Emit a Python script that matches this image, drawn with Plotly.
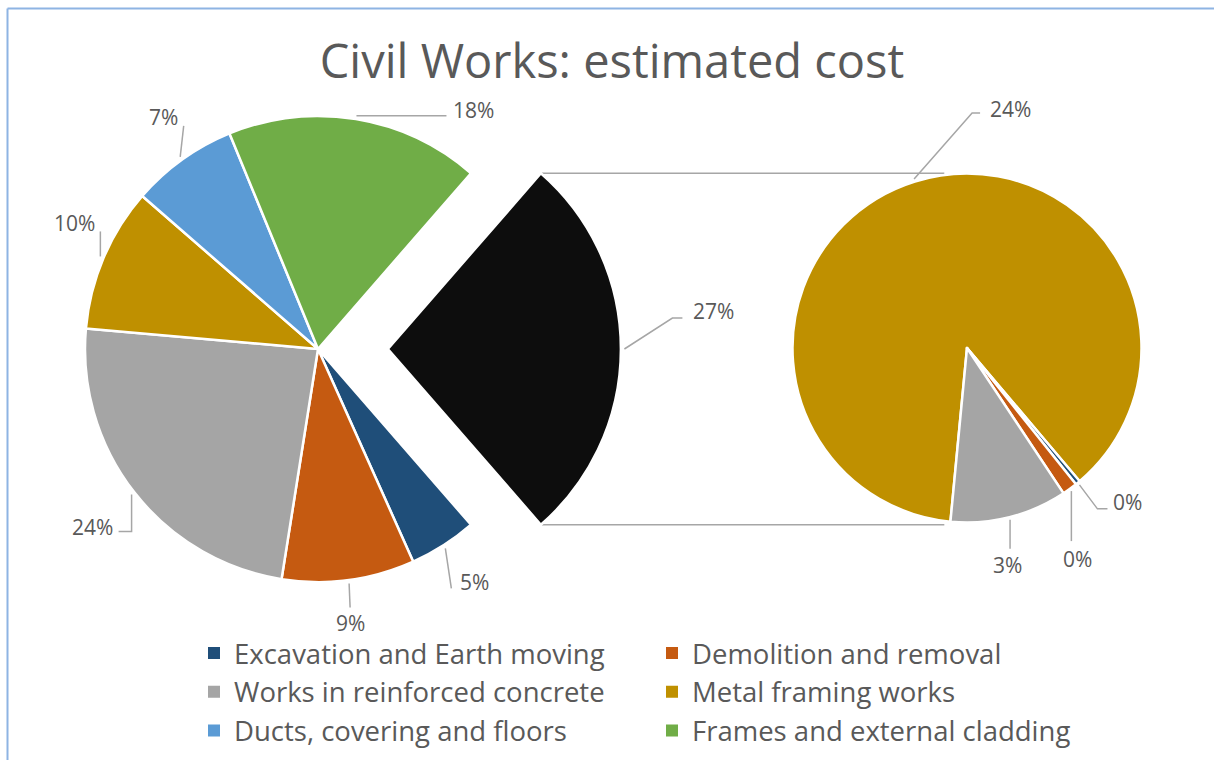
import math
import plotly.graph_objects as go

# ---- data: shares of the total estimated cost (%) ----
categories = [
    "Excavation and Earth moving",
    "Demolition and removal",
    "Works in reinforced concrete",
    "Metal framing works",
    "Ducts, covering and floors",
    "Frames and external cladding",
]
main_values = [4.7, 9.2, 23.9, 10.0, 7.4, 17.6]

# breakdown of the "Other" slice, drawn as the secondary pie
detail_labels = [
    "Metal framing works",
    "Excavation and Earth moving",
    "Demolition and removal",
    "Works in reinforced concrete",
]
detail_values = [23.75, 0.12, 0.38, 2.95]

other_label = "Other"
other_value = sum(detail_values)

palette = {
    "Excavation and Earth moving": "#1F4E79",
    "Demolition and removal": "#C55A11",
    "Works in reinforced concrete": "#A5A5A5",
    "Metal framing works": "#BF9000",
    "Ducts, covering and floors": "#5B9BD5",
    "Frames and external cladding": "#70AD47",
    "Other": "#0D0D0D",
}

# ---- page geometry (pixels) ----
W, H = 1214, 760
C1, R1, PULL = (318.0, 349.0), 233.0, 0.30      # main pie
C2, R2 = (967.0, 348.0), 174.5                   # secondary pie
TEXT_COLOR = "#595959"
LINE_COLOR = "#A6A6A6"
FONT = "'Open Sans', Lato, sans-serif"


def domain(center, half):
    cx, cy = center
    return dict(x=[(cx - half) / W, (cx + half) / W],
                y=[1 - (cy + half) / H, 1 - (cy - half) / H])


def mid_angles(values, rotation):
    total = sum(values)
    out, acc = [], 0.0
    for v in values:
        out.append(rotation + 360.0 * (acc + v / 2.0) / total)
        acc += v
    return out


def polar(center, r, ang):
    a = math.radians(ang)
    return center[0] + r * math.sin(a), center[1] - r * math.cos(a)


main_labels = categories + [other_label]
main_all = main_values + [other_value]
grand_total = sum(main_all)
# the exploded slice is centred on 3 o'clock
rot1 = 90.0 + 180.0 * other_value / grand_total
rot2 = 185.45
pulls = [0.0] * len(categories) + [PULL]

fig = go.Figure()

fig.add_trace(go.Pie(
    labels=main_labels, values=main_all,
    marker=dict(colors=[palette[l] for l in main_labels],
                line=dict(color="white", width=2.5)),
    sort=False, direction="clockwise", rotation=rot1, pull=pulls,
    textinfo="none", hoverinfo="label+percent", showlegend=False,
    domain=domain(C1, R1 * (1 + PULL)),
))

fig.add_trace(go.Pie(
    labels=detail_labels, values=detail_values,
    marker=dict(colors=[palette[l] for l in detail_labels],
                line=dict(color="white", width=2.5)),
    sort=False, direction="clockwise", rotation=rot2,
    textinfo="none", hoverinfo="label+value", showlegend=False,
    domain=domain(C2, R2),
))

# ---- connector lines between the exploded slice and the secondary pie ----
a_start = rot1 - 360.0 * other_value / grand_total + 360.0
pulled_c = polar(C1, R1 * PULL, 90.0)
top_corner = polar(pulled_c, R1, a_start)
bot_corner = polar(pulled_c, R1, 180.0 - a_start)
end_x = C2[0] - 0.13 * R2
cx_lines, cy_lines = [], []
for corner in (top_corner, bot_corner):
    cx_lines += [corner[0] + 1, end_x, None]
    cy_lines += [corner[1], corner[1], None]

# ---- data labels with leader lines ----
# (lead dx, lead dy, horizontal stub, text side, text dx, text dy)
main_label_style = [
    (6, 40, 0, "r", 7, -6),
    (1, 24, 0, "b", 0, 0),
    (0, 37, -13, "l", -4, -5),
    (0, -25, 0, "l", -3, -8),
    (3.5, -31, 0, "l", -4, -9),
    (90, 0, 0, "r", 5, -6),
    (48, -31, 10, "r", 9, -7),
]
detail_label_style = [
    (58, -66, 8, "r", 8, -4),
    (18, 24, 10, "r", 4, -7),
    (0, 50, 0, "b", 6, 2),
    (0, 29, 0, "b", -3, 0),
]

annotations = []
lx, ly = [], []


def add_labels(values, rotation, center, radius, styles, pull_flags):
    mids = mid_angles(values, rotation)
    for v, ang, st, pf in zip(values, mids, styles, pull_flags):
        c = polar(center, radius * pf, ang) if pf else center
        sx, sy = polar(c, radius * 1.015, ang)
        ex, ey = sx + st[0], sy + st[1]
        fx, fy = ex + st[2], ey
        lx.extend([sx, ex, fx, None])
        ly.extend([sy, ey, fy, None])
        side = st[3]
        xanchor = {"r": "left", "l": "right", "b": "center"}[side]
        yanchor = "top" if side == "b" else "middle"
        annotations.append(dict(
            x=fx + st[4], y=fy + st[5], xref="x", yref="y",
            text=f"{round(100 * v / grand_total)}%", showarrow=False,
            xanchor=xanchor, yanchor=yanchor,
            font=dict(family=FONT, size=21, color=TEXT_COLOR),
        ))


add_labels(main_all, rot1, C1, R1, main_label_style, [0] * len(categories) + [PULL])
add_labels(detail_values, rot2, C2, R2, detail_label_style, [0] * len(detail_values))

fig.add_trace(go.Scatter(x=cx_lines + lx, y=cy_lines + ly, mode="lines",
                         line=dict(color=LINE_COLOR, width=1.5),
                         hoverinfo="skip", showlegend=False))

# ---- legend entries ----
for name in categories:
    fig.add_trace(go.Scatter(x=[None], y=[None], mode="markers", name=name,
                             marker=dict(symbol="square", size=12, color=palette[name])))

fig.update_layout(
    width=W, height=H,
    margin=dict(l=0, r=0, t=0, b=0),
    paper_bgcolor="white", plot_bgcolor="rgba(0,0,0,0)",
    xaxis=dict(range=[0, W], visible=False, fixedrange=True, domain=[0, 1]),
    yaxis=dict(range=[H, 0], visible=False, fixedrange=True, domain=[0, 1]),
    title=dict(text="Civil Works: estimated cost", x=612 / W, xanchor="center",
               y=1 - 62 / H, yanchor="middle", xref="container", yref="container",
               font=dict(family=FONT, size=47, color=TEXT_COLOR)),
    legend=dict(orientation="h", x=194 / W, xanchor="left", y=1 - 628.6 / H, yanchor="top",
                entrywidth=413, entrywidthmode="pixels",
                font=dict(family=FONT, size=27.5, color=TEXT_COLOR),
                bgcolor="rgba(0,0,0,0)", traceorder="normal"),
    annotations=annotations,
    shapes=[
        dict(type="line", xref="paper", yref="paper", x0=7.5 / W, x1=1.02,
             y0=1 - 8.5 / H, y1=1 - 8.5 / H, line=dict(color="#8EB4E3", width=2)),
        dict(type="line", xref="paper", yref="paper", x0=7.5 / W, x1=7.5 / W,
             y0=1 - 8.5 / H, y1=-0.02, line=dict(color="#8EB4E3", width=2)),
    ],
    showlegend=True,
)

fig.write_html("out.html")
